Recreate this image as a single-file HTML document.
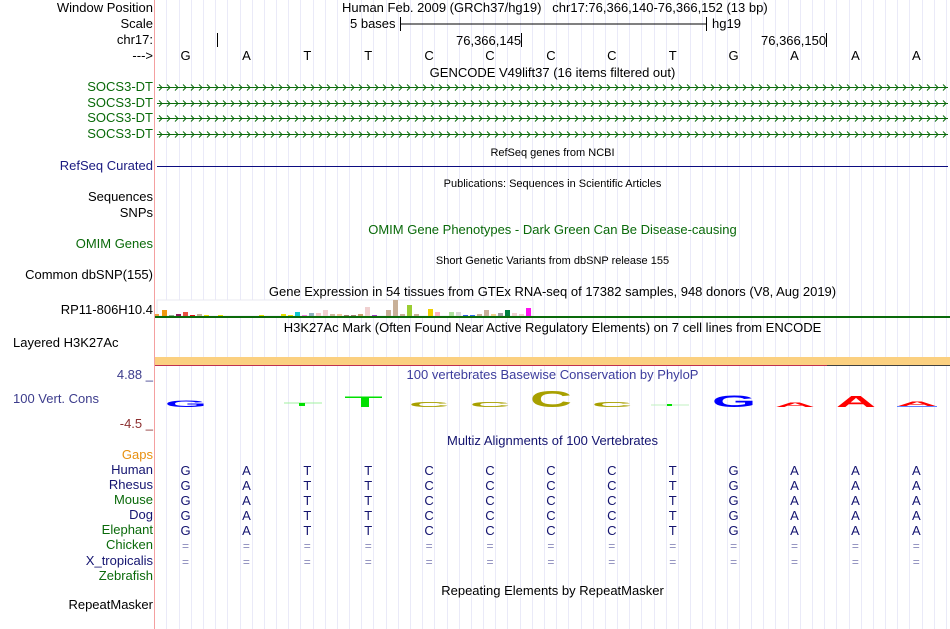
<!DOCTYPE html>
<html><head><meta charset="utf-8"><style>
body{margin:0;width:950px;height:629px;overflow:hidden;background:#fff;font-family:"Liberation Sans",Arial,sans-serif;font-size:13px;position:relative}
.g{position:absolute;left:155px;top:0;width:795px;height:629px;background-image:repeating-linear-gradient(to right,transparent 0,transparent 11.68px,#d4d4f0 11.68px,#d4d4f0 12.18px)}
.pk{position:absolute;left:154px;top:0;width:1px;height:629px;background:#f4a0a0}
.t{position:absolute;white-space:nowrap;line-height:14px}
.l{position:absolute;right:797px;white-space:nowrap;line-height:14px;text-align:right}
.c{position:absolute;width:795px;left:155px;text-align:center;white-space:nowrap;line-height:14px}
.s{font-size:11px}
svg{position:absolute;left:0;top:0}
</style></head><body>
<div class="g"></div><div class="pk"></div>
<svg width="950" height="629" font-family="Liberation Sans,Arial,sans-serif">
<defs>
<pattern id="c1" x="157" y="83.5" width="8" height="8" patternUnits="userSpaceOnUse"><path d="M2,1 L5,4 L2,7" stroke="#0a6a0a" fill="none"/></pattern>
<pattern id="c2" x="157" y="99.5" width="8" height="8" patternUnits="userSpaceOnUse"><path d="M2,1 L5,4 L2,7" stroke="#0a6a0a" fill="none"/></pattern>
<pattern id="c3" x="157" y="114.5" width="8" height="8" patternUnits="userSpaceOnUse"><path d="M2,1 L5,4 L2,7" stroke="#0a6a0a" fill="none"/></pattern>
<pattern id="c4" x="157" y="130.5" width="8" height="8" patternUnits="userSpaceOnUse"><path d="M2,1 L5,4 L2,7" stroke="#0a6a0a" fill="none"/></pattern>
</defs>
<line x1="400" y1="24" x2="707" y2="24" stroke="#000"/><line x1="400.5" y1="17" x2="400.5" y2="31" stroke="#000"/><line x1="706.5" y1="17" x2="706.5" y2="31" stroke="#000"/>
<line x1="217.5" y1="33" x2="217.5" y2="47" stroke="#000"/><line x1="521.5" y1="33" x2="521.5" y2="47" stroke="#000"/><line x1="826.5" y1="33" x2="826.5" y2="47" stroke="#000"/>
<line x1="157" y1="87.5" x2="948" y2="87.5" stroke="#0a6a0a"/><rect x="157" y="83.5" width="791" height="8" fill="url(#c1)"/>
<line x1="157" y1="103.5" x2="948" y2="103.5" stroke="#0a6a0a"/><rect x="157" y="99.5" width="791" height="8" fill="url(#c2)"/>
<line x1="157" y1="118.5" x2="948" y2="118.5" stroke="#0a6a0a"/><rect x="157" y="114.5" width="791" height="8" fill="url(#c3)"/>
<line x1="157" y1="134.5" x2="948" y2="134.5" stroke="#0a6a0a"/><rect x="157" y="130.5" width="791" height="8" fill="url(#c4)"/>
<line x1="157" y1="166.5" x2="948" y2="166.5" stroke="#0c0c80"/>
<rect x="157" y="300" width="376" height="16" fill="#fff" stroke="#e8e8f0" stroke-width="1"/>
<g>
<rect x="155" y="314" width="4" height="2" fill="#f0a040"/><rect x="162" y="310" width="5" height="6" fill="#f09a10"/><rect x="169" y="315" width="5" height="1" fill="#90b090"/><rect x="176" y="314" width="5" height="2" fill="#8b1a5a"/><rect x="183" y="312" width="5" height="4" fill="#e85040"/><rect x="190" y="315" width="5" height="1" fill="#e01010"/><rect x="197" y="314" width="5" height="2" fill="#c8b098"/><rect x="204" y="315" width="5" height="1" fill="#e8e000"/><rect x="218" y="315" width="5" height="1" fill="#e8e000"/><rect x="259" y="315" width="5" height="1" fill="#e8e000"/><rect x="281" y="314" width="5" height="2" fill="#e8e000"/><rect x="288" y="315" width="5" height="1" fill="#e8e000"/><rect x="295" y="312" width="5" height="4" fill="#10c8d0"/><rect x="302" y="315" width="5" height="1" fill="#f080e0"/><rect x="309" y="313" width="5" height="3" fill="#90b0c0"/><rect x="316" y="313" width="5" height="3" fill="#f0c8c8"/><rect x="323" y="310" width="5" height="6" fill="#f0d0d0"/><rect x="330" y="314" width="5" height="2" fill="#d0b8a0"/><rect x="337" y="314" width="5" height="2" fill="#f0c8a0"/><rect x="344" y="315" width="5" height="1" fill="#a08070"/><rect x="351" y="315" width="5" height="1" fill="#a08070"/><rect x="358" y="314" width="5" height="2" fill="#c8a070"/><rect x="365" y="307" width="5" height="9" fill="#f0d0d0"/><rect x="372" y="315" width="5" height="1" fill="#a040c0"/><rect x="386" y="310" width="5" height="6" fill="#c8b098"/><rect x="393" y="300" width="5" height="16" fill="#c8b098"/><rect x="400" y="314" width="5" height="2" fill="#c8b098"/><rect x="407" y="305" width="5" height="11" fill="#9acd32"/><rect x="414" y="314" width="5" height="2" fill="#c8b098"/><rect x="428" y="309" width="5" height="7" fill="#f0d000"/><rect x="435" y="312" width="5" height="4" fill="#ffb0c0"/><rect x="449" y="312" width="5" height="4" fill="#b0e0a0"/><rect x="456" y="312" width="5" height="4" fill="#d8d8d8"/><rect x="463" y="315" width="5" height="1" fill="#3060e0"/><rect x="470" y="315" width="5" height="1" fill="#3070f0"/><rect x="477" y="314" width="5" height="2" fill="#c8b098"/><rect x="484" y="310" width="5" height="6" fill="#c8b098"/><rect x="491" y="314" width="5" height="2" fill="#f0d090"/><rect x="498" y="313" width="5" height="3" fill="#a0a0a0"/><rect x="505" y="310" width="5" height="6" fill="#008040"/><rect x="512" y="313" width="5" height="3" fill="#f0d0d0"/><rect x="519" y="314" width="5" height="2" fill="#f0d0d0"/><rect x="526" y="308" width="5" height="8" fill="#ff10f0"/>
</g>
<rect x="155" y="316" width="795" height="2" fill="#0a6a0a"/>
<rect x="155" y="357" width="795" height="8" fill="#fbd080"/>
<line x1="155" y1="365.5" x2="827" y2="365.5" stroke="#c03050"/><line x1="827" y1="365.5" x2="950" y2="365.5" stroke="#404040"/>
<g font-weight="bold" font-size="20" text-anchor="middle">
<text transform="translate(186,407) scale(1,0.48)" textLength="42" lengthAdjust="spacingAndGlyphs" fill="#0000ff">G</text>
<rect x="284" y="402.5" width="38" height="1" fill="#a0f0a0"/><rect x="299" y="403" width="6" height="3" fill="#00e000"/>
<rect x="345" y="396.5" width="37" height="1.5" fill="#00e000"/><rect x="361" y="397" width="8" height="10" fill="#00e000"/>
<text transform="translate(429,407) scale(1,0.36)" textLength="40" lengthAdjust="spacingAndGlyphs" fill="#a8a000">C</text>
<text transform="translate(490,407) scale(1,0.36)" textLength="40" lengthAdjust="spacingAndGlyphs" fill="#a8a000">C</text>
<text transform="translate(551,407) scale(1,1.15)" textLength="42" lengthAdjust="spacingAndGlyphs" fill="#a8a000">C</text>
<text transform="translate(612,407) scale(1,0.36)" textLength="40" lengthAdjust="spacingAndGlyphs" fill="#a8a000">C</text>
<rect x="651" y="404.5" width="38" height="1" fill="#c0f0c0"/><rect x="667" y="404" width="5" height="2" fill="#00e000"/>
<text transform="translate(734,407) scale(1,0.85)" textLength="44" lengthAdjust="spacingAndGlyphs" fill="#0000ff">G</text>
<text transform="translate(795,407) scale(1,0.3)" textLength="40" lengthAdjust="spacingAndGlyphs" fill="#ff0000">A</text>
<text transform="translate(856,407) scale(1,0.8)" textLength="40" lengthAdjust="spacingAndGlyphs" fill="#ff0000">A</text>
<text transform="translate(917,406) scale(1,0.3)" textLength="40" lengthAdjust="spacingAndGlyphs" fill="#ff0000">A</text>
<rect x="897" y="406" width="40" height="1" fill="#6080ff"/>
</g>
</svg>

<div class="t" style="left:342px;top:1px">Human Feb. 2009 (GRCh37/hg19) &nbsp; chr17:76,366,140-76,366,152 (13 bp)</div>
<div class="t" style="left:350px;top:17px">5 bases</div>
<div class="t" style="left:712px;top:17px">hg19</div>
<div class="t" style="left:456px;top:34px">76,366,145</div>
<div class="t" style="left:761px;top:34px">76,366,150</div>

<div class="l" style="top:1px">Window Position</div>
<div class="l" style="top:17px">Scale</div>
<div class="l" style="top:33px">chr17:</div>
<div class="l" style="top:49px">---&gt;</div>
<div class="l" style="top:80px;color:#0a6a0a">SOCS3-DT</div>
<div class="l" style="top:96px;color:#0a6a0a">SOCS3-DT</div>
<div class="l" style="top:111px;color:#0a6a0a">SOCS3-DT</div>
<div class="l" style="top:127px;color:#0a6a0a">SOCS3-DT</div>
<div class="l" style="top:159px;color:#1a1a80">RefSeq Curated</div>
<div class="l" style="top:190px">Sequences</div>
<div class="l" style="top:206px">SNPs</div>
<div class="l" style="top:237px;color:#0a6a0a">OMIM Genes</div>
<div class="l" style="top:268px">Common dbSNP(155)</div>
<div class="l" style="top:303px">RP11-806H10.4</div>
<div class="t" style="left:13px;top:336px">Layered H3K27Ac</div>
<div class="l" style="top:368px;color:#3c3c8c">4.88 _</div>
<div class="t" style="left:13px;top:392px;color:#3c3c8c">100 Vert. Cons</div>
<div class="l" style="top:417px;color:#8c3030">-4.5 _</div>
<div class="l" style="top:448px;color:#e89010">Gaps</div>
<div class="l" style="top:463px;color:#141470">Human</div>
<div class="l" style="top:478px;color:#141470">Rhesus</div>
<div class="l" style="top:493px;color:#0a6a0a">Mouse</div>
<div class="l" style="top:508px;color:#141470">Dog</div>
<div class="l" style="top:523px;color:#0a6a0a">Elephant</div>
<div class="l" style="top:538px;color:#0a6a0a">Chicken</div>
<div class="l" style="top:554px;color:#141470">X_tropicalis</div>
<div class="l" style="top:569px;color:#0a6a0a">Zebrafish</div>
<div class="l" style="top:598px">RepeatMasker</div>

<div class="c" style="top:66px">GENCODE V49lift37 (16 items filtered out)</div>
<div class="c s" style="top:146px">RefSeq genes from NCBI</div>
<div class="c s" style="top:177px">Publications: Sequences in Scientific Articles</div>
<div class="c" style="top:223px;color:#0a6a0a">OMIM Gene Phenotypes - Dark Green Can Be Disease-causing</div>
<div class="c s" style="top:254px">Short Genetic Variants from dbSNP release 155</div>
<div class="c" style="top:285px">Gene Expression in 54 tissues from GTEx RNA-seq of 17382 samples, 948 donors (V8, Aug 2019)</div>
<div class="c" style="top:321px">H3K27Ac Mark (Often Found Near Active Regulatory Elements) on 7 cell lines from ENCODE</div>
<div class="c" style="top:368px;color:#3c3c9c">100 vertebrates Basewise Conservation by PhyloP</div>
<div class="c" style="top:434px;color:#141470">Multiz Alignments of 100 Vertebrates</div>
<div class="c" style="top:584px">Repeating Elements by RepeatMasker</div>

<svg width="950" height="629" font-family="Liberation Sans,Arial,sans-serif" font-size="13" text-anchor="middle">
<text y="60"><tspan x="185.5">G</tspan><tspan x="246.4">A</tspan><tspan x="307.3">T</tspan><tspan x="368.2">T</tspan><tspan x="429.1">C</tspan><tspan x="490">C</tspan><tspan x="550.9">C</tspan><tspan x="611.8">C</tspan><tspan x="672.7">T</tspan><tspan x="733.6">G</tspan><tspan x="794.5">A</tspan><tspan x="855.4">A</tspan><tspan x="916.3">A</tspan></text>
<g fill="#141470">
<text y="475"><tspan x="185.5">G</tspan><tspan x="246.4">A</tspan><tspan x="307.3">T</tspan><tspan x="368.2">T</tspan><tspan x="429.1">C</tspan><tspan x="490">C</tspan><tspan x="550.9">C</tspan><tspan x="611.8">C</tspan><tspan x="672.7">T</tspan><tspan x="733.6">G</tspan><tspan x="794.5">A</tspan><tspan x="855.4">A</tspan><tspan x="916.3">A</tspan></text>
<text y="490"><tspan x="185.5">G</tspan><tspan x="246.4">A</tspan><tspan x="307.3">T</tspan><tspan x="368.2">T</tspan><tspan x="429.1">C</tspan><tspan x="490">C</tspan><tspan x="550.9">C</tspan><tspan x="611.8">C</tspan><tspan x="672.7">T</tspan><tspan x="733.6">G</tspan><tspan x="794.5">A</tspan><tspan x="855.4">A</tspan><tspan x="916.3">A</tspan></text>
<text y="505"><tspan x="185.5">G</tspan><tspan x="246.4">A</tspan><tspan x="307.3">T</tspan><tspan x="368.2">T</tspan><tspan x="429.1">C</tspan><tspan x="490">C</tspan><tspan x="550.9">C</tspan><tspan x="611.8">C</tspan><tspan x="672.7">T</tspan><tspan x="733.6">G</tspan><tspan x="794.5">A</tspan><tspan x="855.4">A</tspan><tspan x="916.3">A</tspan></text>
<text y="520"><tspan x="185.5">G</tspan><tspan x="246.4">A</tspan><tspan x="307.3">T</tspan><tspan x="368.2">T</tspan><tspan x="429.1">C</tspan><tspan x="490">C</tspan><tspan x="550.9">C</tspan><tspan x="611.8">C</tspan><tspan x="672.7">T</tspan><tspan x="733.6">G</tspan><tspan x="794.5">A</tspan><tspan x="855.4">A</tspan><tspan x="916.3">A</tspan></text>
<text y="535"><tspan x="185.5">G</tspan><tspan x="246.4">A</tspan><tspan x="307.3">T</tspan><tspan x="368.2">T</tspan><tspan x="429.1">C</tspan><tspan x="490">C</tspan><tspan x="550.9">C</tspan><tspan x="611.8">C</tspan><tspan x="672.7">T</tspan><tspan x="733.6">G</tspan><tspan x="794.5">A</tspan><tspan x="855.4">A</tspan><tspan x="916.3">A</tspan></text>
</g>
<g fill="#8888bb" font-size="12">
<text y="550"><tspan x="185.5">=</tspan><tspan x="246.4">=</tspan><tspan x="307.3">=</tspan><tspan x="368.2">=</tspan><tspan x="429.1">=</tspan><tspan x="490">=</tspan><tspan x="550.9">=</tspan><tspan x="611.8">=</tspan><tspan x="672.7">=</tspan><tspan x="733.6">=</tspan><tspan x="794.5">=</tspan><tspan x="855.4">=</tspan><tspan x="916.3">=</tspan></text>
<text y="566"><tspan x="185.5">=</tspan><tspan x="246.4">=</tspan><tspan x="307.3">=</tspan><tspan x="368.2">=</tspan><tspan x="429.1">=</tspan><tspan x="490">=</tspan><tspan x="550.9">=</tspan><tspan x="611.8">=</tspan><tspan x="672.7">=</tspan><tspan x="733.6">=</tspan><tspan x="794.5">=</tspan><tspan x="855.4">=</tspan><tspan x="916.3">=</tspan></text>
</g>
</svg>
</body></html>
